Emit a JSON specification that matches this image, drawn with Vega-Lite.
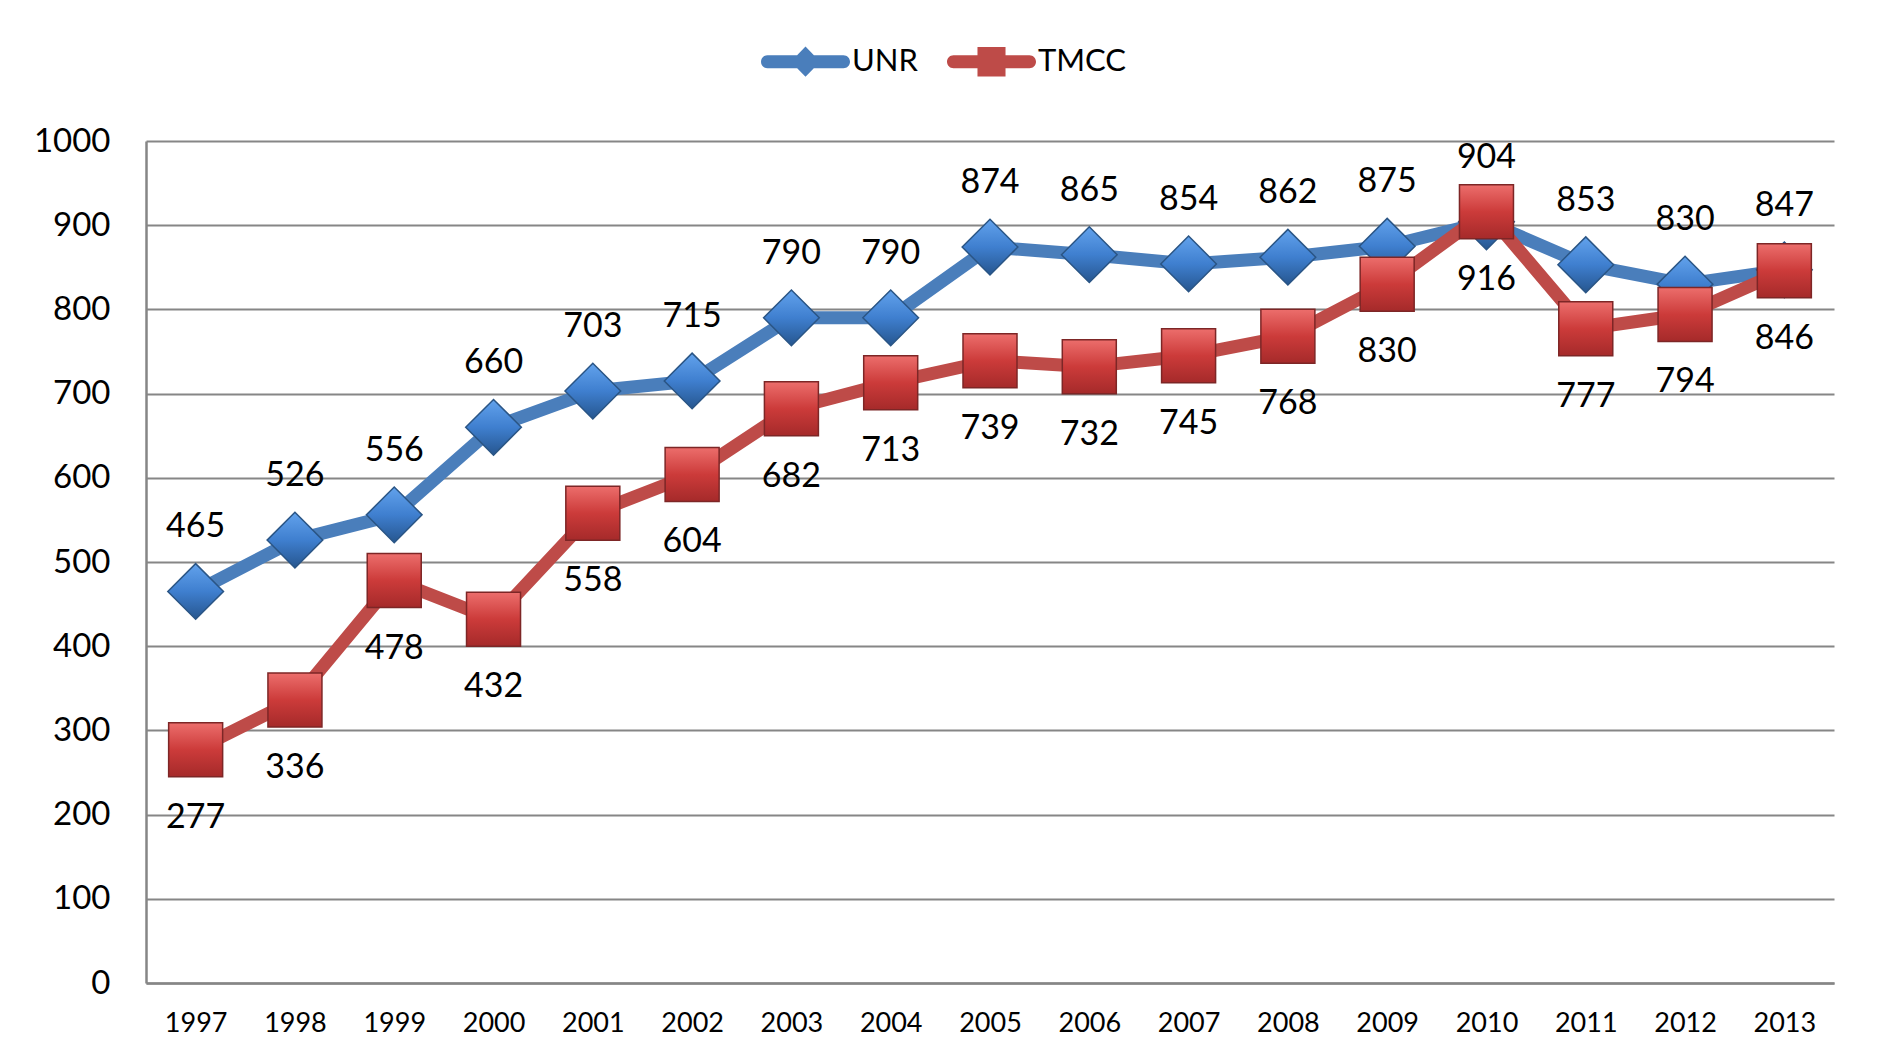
{
  "$schema": "https://vega.github.io/schema/vega-lite/v6.json",
  "width": 1688,
  "height": 842,
  "autosize": {"type": "none"},
  "padding": {"left": 146, "top": 141, "right": 47, "bottom": 79},
  "background": "white",
  "config": {"view": {"stroke": null}, "font": "Lato"},
  "data": {"values": [
    {"year": "1997", "series": "UNR", "value": 465}, {"year": "1998", "series": "UNR", "value": 526},
    {"year": "1999", "series": "UNR", "value": 556}, {"year": "2000", "series": "UNR", "value": 660},
    {"year": "2001", "series": "UNR", "value": 703}, {"year": "2002", "series": "UNR", "value": 715},
    {"year": "2003", "series": "UNR", "value": 790}, {"year": "2004", "series": "UNR", "value": 790},
    {"year": "2005", "series": "UNR", "value": 874}, {"year": "2006", "series": "UNR", "value": 865},
    {"year": "2007", "series": "UNR", "value": 854}, {"year": "2008", "series": "UNR", "value": 862},
    {"year": "2009", "series": "UNR", "value": 875}, {"year": "2010", "series": "UNR", "value": 904},
    {"year": "2011", "series": "UNR", "value": 853}, {"year": "2012", "series": "UNR", "value": 830},
    {"year": "2013", "series": "UNR", "value": 847},
    {"year": "1997", "series": "TMCC", "value": 277}, {"year": "1998", "series": "TMCC", "value": 336},
    {"year": "1999", "series": "TMCC", "value": 478}, {"year": "2000", "series": "TMCC", "value": 432},
    {"year": "2001", "series": "TMCC", "value": 558}, {"year": "2002", "series": "TMCC", "value": 604},
    {"year": "2003", "series": "TMCC", "value": 682}, {"year": "2004", "series": "TMCC", "value": 713},
    {"year": "2005", "series": "TMCC", "value": 739}, {"year": "2006", "series": "TMCC", "value": 732},
    {"year": "2007", "series": "TMCC", "value": 745}, {"year": "2008", "series": "TMCC", "value": 768},
    {"year": "2009", "series": "TMCC", "value": 830}, {"year": "2010", "series": "TMCC", "value": 916},
    {"year": "2011", "series": "TMCC", "value": 777}, {"year": "2012", "series": "TMCC", "value": 794},
    {"year": "2013", "series": "TMCC", "value": 846}
  ]},
  "encoding": {
    "x": {
      "field": "year", "type": "ordinal",
      "scale": {"type": "point", "padding": 0.5},
      "axis": {"title": null, "labelAngle": 0, "ticks": false, "grid": false, "domainColor": "#868686", "domainWidth": 2.5,
               "labelFontSize": 27, "labelColor": "black", "labelPadding": 27, "labelFont": "Lato"}
    },
    "y": {
      "field": "value", "type": "quantitative",
      "scale": {"domain": [0, 1000]},
      "axis": {"title": null, "format": "d", "values": [0, 100, 200, 300, 400, 500, 600, 700, 800, 900, 1000], "ticks": false,
               "domainColor": "#868686", "domainWidth": 2.5, "gridColor": "#868686", "gridWidth": 2, "gridOpacity": 1,
               "labelFontSize": 33, "labelColor": "black", "labelPadding": 36, "labelFont": "Lato"}
    }
  },
  "layer": [
    {
      "transform": [{"filter": "datum.series === 'UNR'"}],
      "mark": {"type": "line", "strokeWidth": 13, "strokeCap": "round", "strokeJoin": "round"},
      "encoding": {
        "color": {
          "field": "series", "type": "nominal",
          "scale": {"domain": ["UNR", "TMCC"], "range": ["#4a7ebb", "#be4b48"]},
          "legend": {
            "orient": "none", "direction": "horizontal", "legendX": 615, "legendY": -124,
            "title": null, "labelFontSize": 31, "labelColor": "black", "labelFont": "Lato", "labelOffset": 2,
            "columnPadding": 28, "symbolSize": 7921, "symbolStrokeWidth": 0, "padding": 0,
            "encode": {"symbols": {"update": {
              "shape": {"signal": "datum.value === 'UNR' ? 'M-0.854,-0.146L0.854,-0.146A0.146,0.146,0,0,1,0.854,0.146L-0.854,0.146A0.146,0.146,0,0,1,-0.854,-0.146ZM0,-0.34L0.33,0L0,0.34L-0.33,0Z' : 'M-0.854,-0.146L0.854,-0.146A0.146,0.146,0,0,1,0.854,0.146L-0.854,0.146A0.146,0.146,0,0,1,-0.854,-0.146ZM-0.315,-0.33L0.315,-0.33L0.315,0.33L-0.315,0.33Z'"},
              "fill": {"signal": "datum.value === 'UNR' ? '#4a7ebb' : '#be4b48'"},
              "fillOpacity": {"value": 1},
              "strokeWidth": {"value": 0},
              "opacity": {"value": 1}
            }}}
          }
        }
      }
    },
    {
      "transform": [{"filter": "datum.series === 'UNR'"}],
      "mark": {"type": "point", "shape": "diamond", "size": 3100, "filled": true, "opacity": 1,
               "fill": {"gradient": "linear", "x1": 0, "y1": 0, "x2": 0, "y2": 1,
                        "stops": [{"offset": 0, "color": "#62a2ec"}, {"offset": 0.5, "color": "#3f7fcf"}, {"offset": 1, "color": "#26568f"}]},
               "stroke": "#2a5585", "strokeWidth": 1.5}
    },
    {
      "transform": [{"filter": "datum.series === 'TMCC'"}],
      "mark": {"type": "line", "strokeWidth": 13, "strokeCap": "round", "strokeJoin": "round"},
      "encoding": {"color": {"field": "series", "type": "nominal"}}
    },
    {
      "transform": [{"filter": "datum.series === 'TMCC'"}],
      "mark": {"type": "point", "shape": "square", "size": 2916, "filled": true, "opacity": 1,
               "fill": {"gradient": "linear", "x1": 0, "y1": 0, "x2": 0, "y2": 1,
                        "stops": [{"offset": 0, "color": "#ec6e6c"}, {"offset": 0.5, "color": "#cc3b3a"}, {"offset": 1, "color": "#a52a2a"}]},
               "stroke": "#7d2626", "strokeWidth": 1.5}
    },
    {
      "transform": [{"filter": "datum.series === 'UNR'"}],
      "mark": {"type": "text", "dy": -64, "fontSize": 34, "font": "Lato", "color": "black", "baseline": "middle"},
      "encoding": {"text": {"field": "value", "type": "quantitative"}}
    },
    {
      "transform": [{"filter": "datum.series === 'TMCC'"}],
      "mark": {"type": "text", "dy": 68, "fontSize": 34, "font": "Lato", "color": "black", "baseline": "middle"},
      "encoding": {"text": {"field": "value", "type": "quantitative"}}
    }
  ]
}
